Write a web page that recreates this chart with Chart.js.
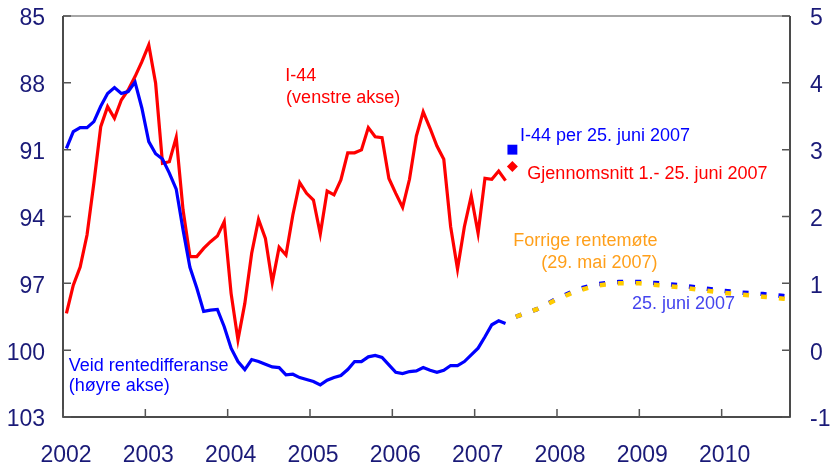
<!DOCTYPE html>
<html>
<head>
<meta charset="utf-8">
<script src="https://cdn.jsdelivr.net/npm/chart.js@4/dist/chart.umd.min.js"></script>
<style>
html,body{margin:0;padding:0;background:#fff}
#wrap{width:831px;height:471px}
</style>
</head>
<body>
<div id="wrap"><canvas id="c"></canvas></div>
<script>
// data, monthly from Jan 2002
const startYear = 2002;
const yearTicks = [2002, 2003, 2004, 2005, 2006, 2007, 2008, 2009, 2010];
const i44 = [98.35, 97.08, 96.27, 94.83, 92.5, 89.97, 89.07, 89.59, 88.77, 88.32,
  87.72, 87.05, 86.30, 88.02, 91.61, 91.54, 90.45, 93.71, 95.80, 95.80,
  95.43, 95.13, 94.88, 94.23, 97.45, 99.54, 97.90, 95.65, 94.13, 94.98,
  96.97, 95.38, 95.73, 93.93, 92.48, 92.96, 93.26, 94.79, 92.86, 93.03,
  92.36, 91.14, 91.14, 91.01, 90.01, 90.42, 90.46, 92.29, 92.96, 93.59,
  92.33, 90.39, 89.30, 90.04, 90.84, 91.43, 94.46, 96.36, 94.46, 93.08,
  94.75, 92.29, 92.33, 91.96, 92.39];
const rentediff = [3.02, 3.27, 3.33, 3.33, 3.42, 3.65, 3.84, 3.93, 3.84, 3.87,
  4.01, 3.62, 3.12, 2.94, 2.86, 2.65, 2.41, 1.80, 1.24, 0.93,
  0.58, 0.60, 0.61, 0.35, 0.03, -0.17, -0.29, -0.14, -0.17, -0.21,
  -0.25, -0.26, -0.37, -0.36, -0.41, -0.44, -0.47, -0.52, -0.45, -0.41,
  -0.38, -0.29, -0.17, -0.17, -0.10, -0.08, -0.11, -0.22, -0.33, -0.35,
  -0.32, -0.31, -0.26, -0.30, -0.33, -0.30, -0.23, -0.23, -0.17, -0.07,
  0.03, 0.20, 0.38, 0.44, 0.40];
// forward paths (quarterly)
const fwdYears = [2007.5, 2007.75, 2008, 2008.25, 2008.5, 2008.75, 2009, 2009.25,
  2009.5, 2009.75, 2010, 2010.25, 2010.5, 2010.75, 2010.83];
const fwdJuni = [0.50, 0.61, 0.77, 0.91, 0.99, 1.02, 1.02, 1.00, 0.97, 0.93, 0.89, 0.86, 0.84, 0.81, 0.80];
const fwdMai  = [0.50, 0.61, 0.76, 0.89, 0.97, 1.00, 1.00, 0.97, 0.94, 0.90, 0.86, 0.83, 0.80, 0.77, 0.76];
const juniMonth = 65;           // June 2007
const i44Per25Juni = 91.0;
const i44SnittJuni = 91.76;

const monthX = i => startYear + (i + 0.5) / 12;
const pts = (arr) => arr.map((v, i) => ({x: monthX(i), y: v}));
const fwdPts = (arr) => arr.map((v, i) => ({x: fwdYears[i], y: v}));

const FONT = 'Liberation Sans, Arial, sans-serif';
const NAVY = '#1a1a78';

// text labels, placed in data units (x: year, y: left axis)
const notes = [
  {t: 'I-44', x: 2004.70, y: 87.92, c: '#ff0000'},
  {t: '(venstre akse)', x: 2004.71, y: 88.91, c: '#ff0000'},
  {t: 'Veid rentedifferanse', x: 2002.07, y: 100.94, c: '#0000ff'},
  {t: '(høyre akse)', x: 2002.07, y: 101.83, c: '#0000ff'},
  {t: 'I-44 per 25. juni 2007', x: 2007.55, y: 90.61, c: '#0000ff'},
  {t: 'Gjennomsnitt 1.- 25. juni 2007', x: 2007.64, y: 92.32, c: '#ff0000'},
  {t: 'Forrige rentemøte', x: 2007.47, y: 95.32, c: '#ff9f1a'},
  {t: '(29. mai 2007)', x: 2007.81, y: 96.31, c: '#ff9f1a'},
  {t: '25. juni 2007', x: 2008.91, y: 98.15, c: '#4444ee'}
];

const frame = {
  id: 'frame',
  afterDatasetsDraw(chart) {
    const {ctx, chartArea: a, scales} = chart;
    ctx.save();
    ctx.lineWidth = 1.5;
    ctx.strokeStyle = '#888';
    ctx.beginPath(); ctx.moveTo(a.left, a.top); ctx.lineTo(a.right, a.top); ctx.stroke();
    ctx.strokeStyle = '#111';
    ctx.beginPath();
    ctx.moveTo(a.left, a.top); ctx.lineTo(a.left, a.bottom); ctx.lineTo(a.right, a.bottom); ctx.lineTo(a.right, a.top);
    ctx.stroke();
    // inward tick marks
    ctx.strokeStyle = '#555';
    ctx.beginPath();
    scales.yL.ticks.forEach(t => {
      const y = scales.yL.getPixelForValue(t.value);
      ctx.moveTo(a.left, y); ctx.lineTo(a.left + 8, y);
    });
    scales.yR.ticks.forEach(t => {
      const y = scales.yR.getPixelForValue(t.value);
      ctx.moveTo(a.right, y); ctx.lineTo(a.right - 8, y);
    });
    scales.x.ticks.forEach(t => {
      const x = scales.x.getPixelForValue(t.value);
      ctx.moveTo(x, a.bottom); ctx.lineTo(x, a.bottom - 8);
    });
    ctx.stroke();
    // notes
    ctx.font = '18px ' + FONT;
    ctx.textAlign = 'left';
    ctx.textBaseline = 'alphabetic';
    notes.forEach(n => {
      ctx.fillStyle = n.c;
      ctx.fillText(n.t, scales.x.getPixelForValue(n.x), scales.yL.getPixelForValue(n.y));
    });
    ctx.restore();
  }
};

const tickFont = {family: FONT, size: 23};

function fixY(w) {
  return s => { s.width = w; s.paddingTop = 16; s.paddingBottom = 0; };
}

new Chart(document.getElementById('c'), {
  type: 'line',
  data: {
    datasets: [
      {label: 'Forrige rentemøte', data: fwdPts(fwdMai), yAxisID: 'yR', borderColor: '#ffcc00',
        borderWidth: 4.5, borderDash: [6, 12], pointRadius: 0, order: 1},
      {label: '25. juni 2007', data: fwdPts(fwdJuni), yAxisID: 'yR', borderColor: '#0000ff',
        borderWidth: 4.5, borderDash: [6, 12], pointRadius: 0, order: 2},
      {label: 'Veid rentedifferanse', data: pts(rentediff), yAxisID: 'yR', borderColor: '#0000ff',
        borderWidth: 3.2, pointRadius: 0, order: 3},
      {label: 'I-44', data: pts(i44), yAxisID: 'yL', borderColor: '#ff0000',
        borderWidth: 3.2, pointRadius: 0, order: 4},
      {label: 'I-44 per 25. juni 2007', data: [{x: monthX(juniMonth), y: i44Per25Juni}], yAxisID: 'yL',
        showLine: false, pointStyle: 'rect', pointRadius: 7, backgroundColor: '#0000ff', borderWidth: 0, order: 0},
      {label: 'Gjennomsnitt 1.- 25. juni 2007', data: [{x: monthX(juniMonth), y: i44SnittJuni}], yAxisID: 'yL',
        showLine: false, pointStyle: 'rectRot', pointRadius: 5.5, backgroundColor: '#ff0000', borderWidth: 0, order: 0}
    ]
  },
  options: {
    responsive: true,
    maintainAspectRatio: false,
    animation: false,
    layout: {padding: 0},
    plugins: {legend: {display: false}, tooltip: {enabled: false}},
    scales: {
      x: {
        type: 'linear', min: 2002, max: 2010.83,
        afterBuildTicks: s => { s.ticks = yearTicks.map(v => ({value: v})); },
        afterFit: s => { s.height = 54; s.paddingLeft = 0; s.paddingRight = 0; },
        ticks: {callback: v => String(v), font: tickFont, color: NAVY, padding: 25,
          labelOffset: 3, maxRotation: 0, autoSkip: false},
        grid: {display: false, drawTicks: false},
        border: {display: false}
      },
      yL: {
        position: 'left', min: 85, max: 103, reverse: true,
        afterFit: fixY(63),
        ticks: {stepSize: 3, font: tickFont, color: NAVY, padding: 18, labelOffset: 3},
        grid: {display: false, drawTicks: false},
        border: {display: false}
      },
      yR: {
        position: 'right', min: -1, max: 5,
        afterFit: fixY(41),
        ticks: {stepSize: 1, font: tickFont, color: NAVY, padding: 20, labelOffset: 3},
        grid: {display: false, drawTicks: false},
        border: {display: false}
      }
    }
  },
  plugins: [frame]
});
</script>
</body>
</html>
